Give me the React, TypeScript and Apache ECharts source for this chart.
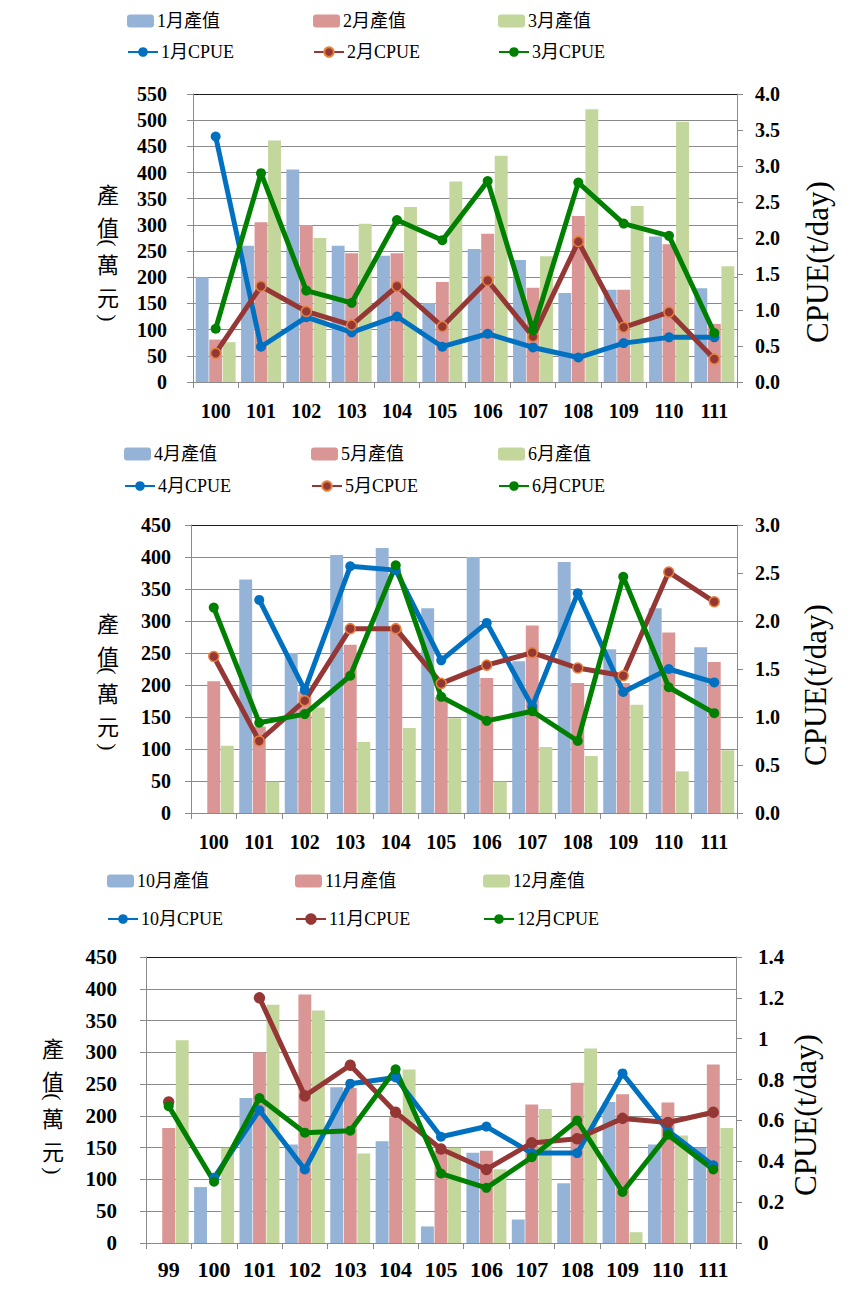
import React, { useEffect, useRef } from "react";
import * as echarts from "echarts";

// ---------- data ----------
const years1 = ["100", "101", "102", "103", "104", "105", "106", "107", "108", "109", "110", "111"];
const years3 = ["99", "100", "101", "102", "103", "104", "105", "106", "107", "108", "109", "110", "111"];

// Panel 1 (1-3月)
const months1 = ["1", "2", "3"];
const value1Jan = [200, 260, 406, 260, 241, 151, 254, 233, 170, 176, 278, 179];
const value1Feb = [81, 305, 300, 246, 246, 191, 283, 180, 317, 176, 263, 111];
const value1Mar = [76, 461, 275, 302, 334, 383, 432, 240, 521, 336, 497, 221];
const cpue1Jan = [3.41, 0.49, 0.9, 0.69, 0.91, 0.49, 0.67, 0.48, 0.34, 0.54, 0.62, 0.62];
const cpue1Feb = [0.4, 1.33, 0.98, 0.79, 1.33, 0.77, 1.41, 0.63, 1.95, 0.76, 0.97, 0.32];
const cpue1Mar = [0.74, 2.9, 1.27, 1.1, 2.25, 1.97, 2.79, 0.72, 2.77, 2.2, 2.03, 0.68];

// Panel 2 (4-6月)
const months2 = ["4", "5", "6"];
const value2Apr = [null, 365, 250, 403, 414, 320, 400, 237, 392, 256, 320, 259];
const value2May = [206, 135, 190, 263, 288, 181, 211, 293, 203, 203, 282, 236];
const value2Jun = [105, 49, 165, 111, 133, 148, 49, 103, 89, 169, 65, 98];
const cpue2Apr = [null, 2.22, 1.28, 2.57, 2.53, 1.59, 1.98, 1.11, 2.29, 1.26, 1.5, 1.36];
const cpue2May = [1.63, 0.75, 1.17, 1.92, 1.92, 1.35, 1.54, 1.67, 1.51, 1.43, 2.51, 2.2];
const cpue2Jun = [2.14, 0.94, 1.03, 1.43, 2.58, 1.21, 0.96, 1.06, 0.75, 2.46, 1.31, 1.04];

// Panel 3 (10-12月)
const months3 = ["10", "11", "12"];
const value3Oct = [null, 88, 228, 155, 245, 160, 26, 142, 37, 94, 222, 155, 150];
const value3Nov = [181, null, 300, 391, 244, 198, 145, 145, 218, 252, 234, 221, 281];
const value3Dec = [319, 150, 375, 366, 141, 273, 150, 116, 211, 306, 17, 169, 181];
const cpue3Oct = [null, 0.32, 0.65, 0.36, 0.78, 0.81, 0.52, 0.57, 0.44, 0.44, 0.83, 0.55, 0.38];
const cpue3Nov = [0.69, null, 1.2, 0.72, 0.87, 0.64, 0.46, 0.36, 0.49, 0.51, 0.61, 0.59, 0.64];
const cpue3Dec = [0.67, 0.3, 0.71, 0.54, 0.55, 0.85, 0.34, 0.27, 0.42, 0.6, 0.25, 0.53, 0.36];

// left axis name 產值(萬元), drawn one glyph at a time down the column
const leftAxisName = "產值(萬元)";
const rightAxisName = "CPUE(t/day)";
const valueSuffix = "月產值";
const cpueSuffix = "月CPUE";

// ---------- styles ----------
const SERIF = "'Liberation Serif','Times New Roman',serif";
const MIX = "'Liberation Serif','Noto Sans CJK TC',serif";
const CJK = "'Noto Sans CJK TC','Liberation Serif',sans-serif";
const BAR_COLORS = ["#95B3D7", "#D99694", "#C3D69B"];
const LINE_COLORS = ["#0070C0", "#953735", "#008000"];
const GRID_GRAY = "#8a8a8a";

const panels = [
  {
    months: months1,
    years: years1,
    values: [value1Jan, value1Feb, value1Mar],
    cpues: [cpue1Jan, cpue1Feb, cpue1Mar],
    leftMax: 550,
    rightMax: 4,
    rightInterval: 0.5,
    rightFixed: true,
    grid: [193, 94, 544, 288],
    xFont: 20,
    yFont: 20,
    xMargin: 19,
    leftMargin: 26,
    rightMargin: 18,
    legendX: [127, 313, 498],
    legendY: [22, 53],
    legendFont: 18,
    redBorder: "#E8833A",
    nameX: 108,
    nameY: [193, 226, 243, 263, 296, 318],
    rName: [817, 262],
  },
  {
    months: months2,
    years: years1,
    values: [value2Apr, value2May, value2Jun],
    cpues: [cpue2Apr, cpue2May, cpue2Jun],
    leftMax: 450,
    rightMax: 3,
    rightInterval: 0.5,
    rightFixed: true,
    grid: [191, 525, 546, 288],
    xFont: 20,
    yFont: 20,
    xMargin: 19,
    leftMargin: 20,
    rightMargin: 18,
    legendX: [124, 311, 498],
    legendY: [455, 487],
    legendFont: 18,
    redBorder: "#E8833A",
    nameX: 108,
    nameY: [622, 655, 671, 692, 725, 747],
    rName: [815, 685],
  },
  {
    months: months3,
    years: years3,
    values: [value3Oct, value3Nov, value3Dec],
    cpues: [cpue3Oct, cpue3Nov, cpue3Dec],
    leftMax: 450,
    rightMax: 1.4,
    rightInterval: 0.2,
    rightFixed: false,
    grid: [146, 957, 590, 286],
    xFont: 22,
    yFont: 21,
    xMargin: 15,
    leftMargin: 29,
    rightMargin: 22,
    legendX: [107, 295, 483],
    legendY: [882, 920],
    legendFont: 18,
    redBorder: LINE_COLORS[1],
    nameX: 53,
    nameY: [1047, 1080, 1097, 1117, 1150, 1171],
    rName: [805, 1115],
  },
];

function buildOption() {
  const grid: any[] = [];
  const xAxis: any[] = [];
  const yAxis: any[] = [];
  const series: any[] = [];
  const legend: any[] = [];
  const graphic: any[] = [];

  panels.forEach((p, i) => {
    const [gl, gt, gw, gh] = p.grid;
    grid.push({ left: gl, top: gt, width: gw, height: gh, containLabel: false });
    xAxis.push({
      type: "category",
      gridIndex: i,
      data: p.years,
      axisLine: { lineStyle: { color: GRID_GRAY, width: 1 } },
      axisTick: { show: true, length: 6, lineStyle: { color: GRID_GRAY } },
      axisLabel: {
        color: "#000",
        fontFamily: SERIF,
        fontWeight: "bold",
        fontSize: p.xFont,
        margin: p.xMargin,
      },
      splitLine: { show: false },
    });
    const nLines = p.leftMax / 50 + 1;
    const splitColors = Array.from({ length: nLines }, (_, k) => (k === nLines - 1 ? "#1a1a1a" : GRID_GRAY));
    yAxis.push({
      type: "value",
      gridIndex: i,
      position: "left",
      min: 0,
      max: p.leftMax,
      interval: 50,
      axisLine: { show: true, lineStyle: { color: GRID_GRAY } },
      axisTick: { show: true, length: 6, lineStyle: { color: GRID_GRAY } },
      axisLabel: {
        color: "#000",
        fontFamily: SERIF,
        fontWeight: "bold",
        fontSize: p.yFont,
        margin: p.leftMargin,
      },
      splitLine: { show: true, lineStyle: { color: splitColors, width: 1 } },
    });
    yAxis.push({
      type: "value",
      gridIndex: i,
      position: "right",
      min: 0,
      max: p.rightMax,
      interval: p.rightInterval,
      axisLine: { show: true, lineStyle: { color: GRID_GRAY } },
      axisTick: { show: true, length: 6, lineStyle: { color: GRID_GRAY } },
      axisLabel: {
        color: "#000",
        fontFamily: SERIF,
        fontWeight: "bold",
        fontSize: p.yFont,
        margin: p.rightMargin,
        formatter: (v: number) => (p.rightFixed ? v.toFixed(1) : String(+v.toFixed(1))),
      },
      splitLine: { show: false },
    });

    p.months.forEach((m, k) => {
      const name = m + valueSuffix;
      series.push({
        type: "bar",
        name,
        xAxisIndex: i,
        yAxisIndex: 2 * i,
        data: p.values[k],
        itemStyle: { color: BAR_COLORS[k] },
        barCategoryGap: "12%",
        barGap: "5%",
      });
      legend.push({
        data: [name],
        left: p.legendX[k],
        top: p.legendY[0] - 10,
        padding: 0,
        itemWidth: 27,
        itemHeight: 13,
        itemGap: 0,
        textStyle: { fontFamily: MIX, fontSize: p.legendFont, color: "#000", padding: [0, 0, 0, -2] },
      });
    });
    p.months.forEach((m, k) => {
      const name = m + cpueSuffix;
      series.push({
        type: "line",
        name,
        xAxisIndex: i,
        yAxisIndex: 2 * i + 1,
        data: p.cpues[k],
        symbol: "circle",
        symbolSize: 10,
        lineStyle: { width: 5, color: LINE_COLORS[k] },
        itemStyle: {
          color: LINE_COLORS[k],
          borderColor: k === 1 ? p.redBorder : LINE_COLORS[k],
          borderWidth: k === 1 ? 1.5 : 0,
        },
        z: 3,
      });
      legend.push({
        data: [name],
        left: p.legendX[k],
        top: p.legendY[1] - 10,
        padding: 0,
        itemWidth: 30,
        itemHeight: 12,
        itemGap: 0,
        textStyle: { fontFamily: MIX, fontSize: p.legendFont, color: "#000", padding: [0, 0, 0, -2] },
      });
    });

    // left axis name written vertically; brackets turned to lie across the column
    Array.from(leftAxisName).forEach((ch, k) => {
      const paren = ch === "(" || ch === ")";
      graphic.push({
        type: "text",
        x: p.nameX,
        y: p.nameY[k],
        rotation: paren ? -Math.PI / 2 : 0,
        style: {
          text: ch,
          fontFamily: paren ? SERIF : CJK,
          fontSize: 22,
          fill: "#000",
          align: "center",
          verticalAlign: "middle",
        },
      });
    });
    graphic.push({
      type: "text",
      x: p.rName[0],
      y: p.rName[1],
      rotation: Math.PI / 2,
      style: {
        text: rightAxisName,
        fontFamily: SERIF,
        fontSize: 31,
        fill: "#000",
        align: "center",
        verticalAlign: "middle",
      },
    });
  });

  return {
    animation: false,
    backgroundColor: "#fff",
    grid,
    xAxis,
    yAxis,
    series,
    legend,
    graphic,
  };
}

export default function App() {
  const ref = useRef<HTMLDivElement>(null);
  useEffect(() => {
    if (!ref.current) return;
    const chart = echarts.init(ref.current, undefined, { renderer: "svg" });
    chart.setOption(buildOption() as any);
    return () => chart.dispose();
  }, []);
  return (
    <div
      ref={ref}
      style={{ position: "absolute", left: 0, top: 0, width: 854, height: 1290, background: "#fff" }}
    />
  );
}
